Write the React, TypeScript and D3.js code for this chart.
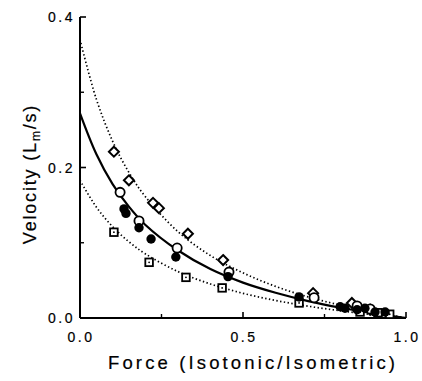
import React from "react";
import * as d3 from "d3";

// Curve samples (force, velocity)
const curveForce = [0, 0.05, 0.1, 0.15, 0.2, 0.3, 0.4, 0.5, 0.6, 0.7, 0.8, 0.9, 1.0];
const upperCurve = [0.37, 0.291, 0.235, 0.1935, 0.1615, 0.115, 0.083, 0.06, 0.042, 0.028, 0.017, 0.008, 0];
const middleCurve = [0.272, 0.218, 0.178, 0.148, 0.124, 0.09, 0.065, 0.047, 0.0335, 0.0225, 0.0136, 0.0062, 0];
const lowerCurve = [0.183, 0.1475, 0.1214, 0.1013, 0.0854, 0.0618, 0.0452, 0.0328, 0.0233, 0.0157, 0.0095, 0.0043, 0];

// Data points
const diamondX = [0.104, 0.15, 0.224, 0.242, 0.331, 0.439, 0.715, 0.834, 0.89];
const diamondY = [0.221, 0.183, 0.153, 0.146, 0.112, 0.077, 0.033, 0.02, 0.011];
const openX = [0.123, 0.181, 0.298, 0.457, 0.718, 0.85, 0.89];
const openY = [0.167, 0.129, 0.093, 0.061, 0.027, 0.016, 0.012];
const filledX = [0.135, 0.141, 0.181, 0.218, 0.294, 0.454, 0.672, 0.798, 0.813, 0.85, 0.874, 0.905, 0.936];
const filledY = [0.145, 0.139, 0.12, 0.105, 0.081, 0.055, 0.028, 0.015, 0.013, 0.011, 0.013, 0.008, 0.008];
const squareX = [0.104, 0.212, 0.325, 0.436, 0.672, 0.859, 0.914, 0.95];
const squareY = [0.114, 0.074, 0.054, 0.04, 0.02, 0.008, 0.007, 0.005];

const xMajor = [0, 0.5, 1.0];
const xMinor = [0.25, 0.75];
const yMajor = [0, 0.2, 0.4];
const yMinor = [0.1, 0.3];

const W = 422;
const H = 381;
const FONT = "'Liberation Sans', Arial, Helvetica, sans-serif";

export default function App() {
  const x = d3.scaleLinear().domain([0, 1]).range([80, 406]);
  const y = d3.scaleLinear().domain([0, 0.4]).range([318, 17]);

  const line = d3
    .line<number>()
    .x((_, i) => x(curveForce[i]))
    .y((d) => y(d))
    .curve(d3.curveCatmullRom.alpha(0.5));

  const ink = "#000";
  const textStroke = { stroke: ink, strokeWidth: 0.2 };

  return (
    <svg
      width={W}
      height={H}
      style={{ position: "fixed", left: 0, top: 0, background: "#fff" }}
      fontFamily={FONT}
    >
      <rect width={W} height={H} fill="#fff" />
      {/* curves */}
      <path d={line(upperCurve) || ""} fill="none" stroke={ink} strokeWidth={1.7} strokeDasharray="1.4 2.4" />
      <path d={line(lowerCurve) || ""} fill="none" stroke={ink} strokeWidth={1.7} strokeDasharray="1.4 2.4" />
      <path d={line(middleCurve) || ""} fill="none" stroke={ink} strokeWidth={2.2} />

      {/* axes */}
      <line x1={x(0)} x2={x(0)} y1={y(0.4)} y2={y(0)} stroke={ink} strokeWidth={2} />
      <line x1={x(0)} x2={x(1)} y1={y(0)} y2={y(0)} stroke={ink} strokeWidth={2} />
      {yMajor.map((v) => (
        <line key={"ym" + v} x1={x(0)} x2={x(0) + 6} y1={y(v)} y2={y(v)} stroke={ink} strokeWidth={1.6} />
      ))}
      {yMinor.map((v) => (
        <line key={"yn" + v} x1={x(0)} x2={x(0) + 4} y1={y(v)} y2={y(v)} stroke={ink} strokeWidth={1.4} />
      ))}
      {xMajor.map((v) => (
        <line key={"xm" + v} x1={x(v)} x2={x(v)} y1={y(0)} y2={y(0) - 6} stroke={ink} strokeWidth={1.6} />
      ))}
      {xMinor.map((v) => (
        <line key={"xn" + v} x1={x(v)} x2={x(v)} y1={y(0)} y2={y(0) - 4} stroke={ink} strokeWidth={1.4} />
      ))}
      {yMajor.map((v) => (
        <text key={"yl" + v} x={x(0) - 5} y={y(v) + 5} textAnchor="end" fontSize={14} letterSpacing={2.5} fill={ink} {...textStroke}>
          {v.toFixed(1)}
        </text>
      ))}
      {xMajor.map((v) => (
        <text key={"xl" + v} x={x(v) + 1} y={y(0) + 24} textAnchor="middle" fontSize={14} letterSpacing={2.5} fill={ink} {...textStroke}>
          {v.toFixed(1)}
        </text>
      ))}

      {/* axis titles */}
      <text x={108} y={369} fontSize={18.5} textLength={287} lengthAdjust="spacing" fill={ink} {...textStroke}>
        Force (Isotonic/Isometric)
      </text>
      <text
        transform={`translate(36,${174}) rotate(-90)`}
        textAnchor="middle"
        fontSize={18}
        letterSpacing={1.8}
        fill={ink}
        {...textStroke}
      >
        <tspan>Velocity</tspan>
        <tspan dx={7}>(L</tspan>
        <tspan fontSize={12} dy={4}>m</tspan>
        <tspan dy={-4}>/s)</tspan>
      </text>

      {/* markers */}
      {squareX.map((v, i) => (
        <g key={"s" + i}>
          <rect x={x(v) - 3.8} y={y(squareY[i]) - 3.8} width={7.6} height={7.6} fill="#fff" stroke={ink} strokeWidth={1.8} />
          <circle cx={x(v)} cy={y(squareY[i])} r={0.9} fill={ink} />
        </g>
      ))}
      {diamondX.map((v, i) => {
        const cx = x(v);
        const cy = y(diamondY[i]);
        const r = 5;
        return (
          <path
            key={"d" + i}
            d={`M${cx},${cy - r}L${cx + r},${cy}L${cx},${cy + r}L${cx - r},${cy}Z`}
            fill="#fff"
            stroke={ink}
            strokeWidth={2}
          />
        );
      })}
      {openX.map((v, i) => (
        <circle key={"o" + i} cx={x(v)} cy={y(openY[i])} r={4.6} fill="#fff" stroke={ink} strokeWidth={1.8} />
      ))}
      {filledX.map((v, i) => (
        <circle key={"f" + i} cx={x(v)} cy={y(filledY[i])} r={4.7} fill={ink} />
      ))}
    </svg>
  );
}
